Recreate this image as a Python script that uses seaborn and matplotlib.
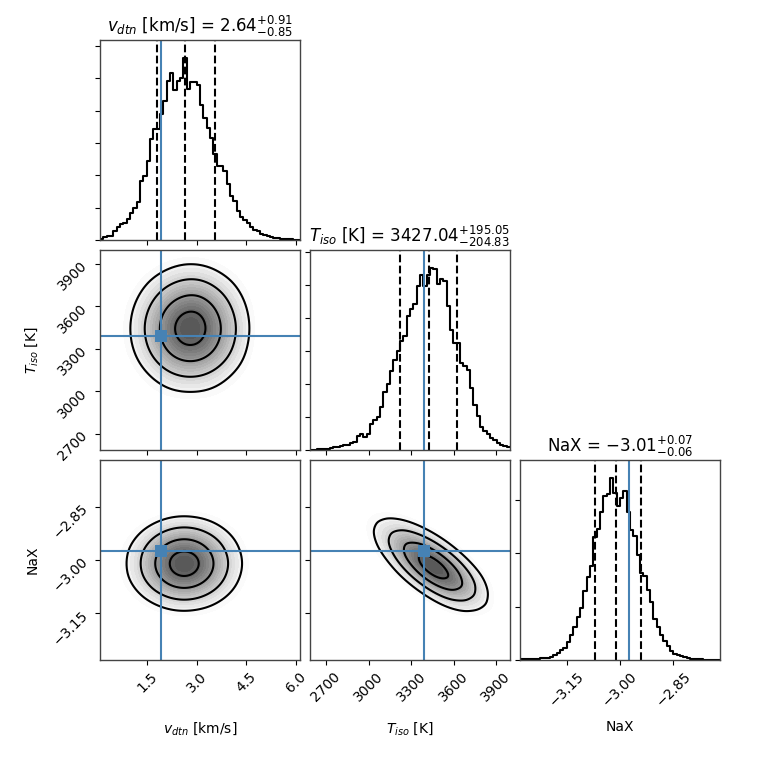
import numpy as np
import pandas as pd
import seaborn as sns
import matplotlib.pyplot as plt
from matplotlib.ticker import MultipleLocator
from matplotlib.colors import LinearSegmentedColormap

plt.rcParams["axes.edgecolor"] = "#444444"
plt.rcParams["axes.linewidth"] = 1.0

# ── Parameters ─────────────────────────────────────────────────────────────────
labels = ["$v_{dtn}$ [km/s]", "$T_{iso}$ [K]", "NaX"]
titles = [
    r"$v_{dtn}$ [km/s] = ${2.64}_{-0.85}^{+0.91}$",
    r"$T_{iso}$ [K] = ${3427.04}_{-204.83}^{+195.05}$",
    r"NaX = ${-3.01}_{-0.06}^{+0.07}$",
]
ranges = [(0.07, 6.12), (2587, 3999), (-3.281, -2.719)]
tick_steps = [1.5, 300, 0.15]
truths = [1.92, 3394, -2.975]
# 16 / 50 / 84 percent quantiles
quantiles = [
    [1.79, 2.64, 3.55],
    [3222.21, 3427.04, 3622.09],
    [-3.07, -3.01, -2.94],
]
truth_color = "#4682b4"

# ── 1D histograms (60 bins over each range) ───────────────────────────────────
v_counts = [4, 10, 12, 13, 27, 39, 49, 51, 65, 82,
            98, 116, 183, 198, 244, 311, 342, 342, 388, 429,
            490, 516, 465, 490, 501, 562, 468, 487, 488, 478,
            418, 377, 347, 316, 265, 229, 229, 213, 172, 136,
            121, 90, 72, 62, 51, 39, 31, 27, 18, 15,
            12, 8, 6, 5, 4, 3, 2, 2, 1, 1]
t_counts = [1, 1, 2, 2, 3, 4, 5, 8, 9, 12,
            14, 16, 20, 24, 41, 49, 39, 49, 80, 92,
            100, 131, 177, 200, 238, 273, 299, 330, 345, 406,
            427, 442, 498, 531, 498, 531, 551, 549, 503, 518,
            513, 437, 365, 324, 324, 263, 253, 243, 187, 136,
            102, 69, 57, 49, 37, 29, 20, 16, 12, 8]
n_counts = [1, 1, 1, 1, 1, 2, 3, 3, 4, 6,
            9, 13, 19, 23, 34, 46, 61, 80, 98, 130,
            155, 176, 230, 245, 277, 307, 311, 341, 314, 289,
            303, 317, 277, 243, 233, 196, 164, 157, 132, 108,
            77, 61, 46, 36, 27, 17, 12, 9, 7, 5,
            4, 2, 2, 1, 1, 0, 0, 0, 0, 0]
hist_counts = [v_counts, t_counts, n_counts]

# ── 2D density grids (rows top -> bottom) ─────────────────────────────────────
v_cells = [0.6, 1.0, 1.4, 1.8, 2.2, 2.6, 3.0, 3.4, 3.8, 4.2, 4.6]
t_cells = [2950, 3050, 3150, 3250, 3350, 3450, 3550, 3650, 3750, 3850, 3950]
n_cells = [-2.86, -2.89, -2.92, -2.95, -2.98, -3.01, -3.04, -3.07, -3.10, -3.13, -3.16]

# T_iso (rows, high -> low) vs v_dtn (cols)
dens_vt = [
    [0, 1, 2, 4, 6, 8, 8, 6, 4, 2, 1],
    [1, 3, 6, 10, 15, 19, 19, 16, 10, 6, 3],
    [2, 5, 12, 21, 32, 39, 41, 32, 22, 12, 5],
    [3, 9, 19, 35, 52, 64, 67, 53, 36, 19, 9],
    [4, 12, 26, 48, 71, 87, 91, 72, 48, 26, 12],
    [5, 13, 30, 54, 80, 100, 97, 80, 54, 30, 14],
    [5, 12, 27, 49, 73, 90, 90, 74, 50, 27, 12],
    [3, 9, 21, 37, 56, 68, 68, 56, 38, 21, 9],
    [2, 5, 12, 22, 33, 40, 40, 33, 22, 12, 6],
    [1, 3, 6, 11, 17, 20, 20, 17, 11, 6, 3],
    [0, 1, 3, 5, 7, 8, 8, 7, 5, 3, 1],
]
# NaX (rows, high -> low) vs v_dtn (cols)
dens_vn = [
    [0, 1, 2, 4, 6, 7, 6, 5, 3, 1, 0],
    [1, 3, 6, 11, 16, 18, 16, 12, 7, 3, 1],
    [2, 6, 14, 24, 34, 39, 35, 25, 15, 7, 3],
    [4, 11, 23, 41, 58, 66, 59, 43, 25, 12, 4],
    [6, 15, 32, 56, 80, 90, 81, 59, 34, 16, 6],
    [6, 16, 35, 62, 88, 100, 90, 65, 38, 18, 7],
    [6, 15, 32, 56, 80, 92, 81, 59, 34, 16, 6],
    [4, 11, 23, 41, 58, 66, 59, 43, 25, 12, 4],
    [2, 6, 14, 24, 34, 39, 35, 25, 15, 7, 3],
    [1, 3, 6, 11, 16, 18, 16, 12, 7, 3, 1],
    [0, 1, 2, 4, 6, 7, 6, 5, 3, 1, 0],
]
# NaX (rows, high -> low) vs T_iso (cols)
dens_tn = [
    [3, 5, 5, 3, 1, 0, 0, 0, 0, 0, 0],
    [4, 10, 14, 12, 6, 2, 0, 0, 0, 0, 0],
    [4, 13, 26, 32, 23, 10, 3, 0, 0, 0, 0],
    [2, 11, 31, 53, 54, 33, 12, 3, 0, 0, 0],
    [1, 6, 23, 57, 83, 72, 37, 11, 2, 0, 0],
    [0, 2, 11, 39, 81, 99, 72, 31, 8, 1, 0],
    [0, 1, 4, 18, 52, 88, 90, 55, 20, 4, 1],
    [0, 0, 1, 5, 21, 51, 73, 63, 30, 8, 1],
    [0, 0, 0, 1, 5, 18, 36, 40, 26, 9, 2],
    [0, 0, 0, 0, 1, 4, 12, 18, 15, 8, 2],
    [0, 0, 0, 0, 0, 1, 3, 5, 5, 3, 1],
]

# (row, col) -> (x cells, y cells top->bottom, weights)
panels = {
    (1, 0): (v_cells, t_cells[::-1], dens_vt),
    (2, 0): (v_cells, n_cells, dens_vn),
    (2, 1): (t_cells, n_cells, dens_tn),
}

# mass outside contours for 0.5, 1, 1.5, 2 sigma
contour_levels = [0.1353, 0.3247, 0.6065, 0.8825]
gray_cmap = LinearSegmentedColormap.from_list("dens", ["#ffffff", "#555555"])


def grid_frame(xc, yc, w):
    xx, yy = np.meshgrid(xc, yc)
    df = pd.DataFrame({"x": xx.ravel(), "y": yy.ravel(),
                       "w": np.asarray(w, float).ravel()})
    return df[df.w > 0]


# ── Plot ───────────────────────────────────────────────────────────────────────
fig, axes = plt.subplots(3, 3, figsize=(7.6, 7.6), dpi=100)
fig.subplots_adjust(left=0.1316, bottom=0.1316, right=0.9474, top=0.9474,
                    wspace=0.05, hspace=0.05)

for i in range(3):
    for j in range(3):
        ax = axes[i, j]
        if j > i:
            ax.set_frame_on(False)
            ax.set_xticks([])
            ax.set_yticks([])
            continue

        if i == j:
            lo, hi = ranges[i]
            nbins = len(hist_counts[i])
            edges = np.linspace(lo, hi, nbins + 1)
            hist_df = pd.DataFrame({"x": 0.5 * (edges[1:] + edges[:-1]),
                                    "n": hist_counts[i]})
            sns.histplot(data=hist_df, x="x", weights="n", bins=nbins,
                         binrange=(lo, hi), element="step", fill=False,
                         color="k", linewidth=1.5, ax=ax)
            for q in quantiles[i]:
                ax.axvline(q, ls="dashed", color="k", lw=1.5)
            ax.axvline(truths[i], color=truth_color, lw=1.5)
            ax.set_ylim(0, 1.1 * max(hist_counts[i]))
            ax.yaxis.set_major_locator(MultipleLocator(100))
            ax.tick_params(labelleft=False)
            ax.set_title(titles[i], fontsize=12)
        else:
            xc, yc, w = panels[(i, j)]
            df = grid_frame(xc, yc, w)
            sns.kdeplot(data=df, x="x", y="y", weights="w", fill=True,
                        levels=20, thresh=0.08, cmap=gray_cmap,
                        bw_adjust=0.7, ax=ax)
            sns.kdeplot(data=df, x="x", y="y", weights="w",
                        levels=contour_levels, color="k", linewidths=1.5,
                        bw_adjust=0.7, ax=ax)
            ax.axvline(truths[j], color=truth_color, lw=1.5)
            ax.axhline(truths[i], color=truth_color, lw=1.5)
            sns.scatterplot(x=[truths[j]], y=[truths[i]], marker="s",
                            color=truth_color, s=70, linewidth=0, ax=ax,
                            zorder=5)
            ax.set_ylim(*ranges[i])
            ax.yaxis.set_major_locator(MultipleLocator(tick_steps[i]))

        ax.set_xlim(*ranges[j])
        ax.xaxis.set_major_locator(MultipleLocator(tick_steps[j]))
        ax.set_xlabel("")
        ax.set_ylabel("")

        if i < 2:
            ax.tick_params(labelbottom=False)
        else:
            ax.tick_params(axis="x", labelrotation=45)
            ax.set_xlabel(labels[j], fontsize=10)
            ax.xaxis.set_label_coords(0.5, -0.3)

        if j > 0 or i == 0:
            ax.tick_params(labelleft=False)
        else:
            ax.tick_params(axis="y", labelrotation=45)
            ax.set_ylabel(labels[i], fontsize=10)
            ax.yaxis.set_label_coords(-0.3, 0.5)

fig.savefig("out.png", dpi=100)
